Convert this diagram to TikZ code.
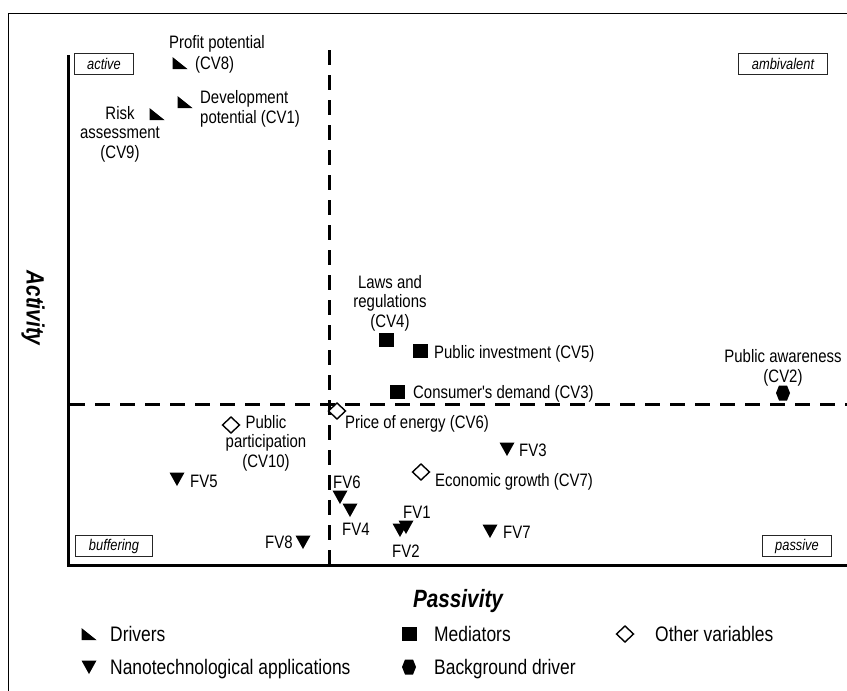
\documentclass[tikz,border=0pt]{standalone}
\usepackage{fontspec}
\setmainfont{Liberation Sans}
\newfontfamily\narrowsans[FakeStretch=0.83]{Liberation Sans}
\tikzset{
  lbl/.style = {font=\narrowsans\fontsize{18}{19.5}\selectfont, inner sep=0pt, align=center},
  keytext/.style = {font=\narrowsans\fontsize{21}{24}\selectfont, inner sep=0pt, anchor=base west},
  axistitle/.style = {font=\narrowsans\bfseries\itshape\fontsize{25}{28}\selectfont},
  quadrant/.style = {draw=black!85, line width=1pt, inner xsep=13pt, inner ysep=0pt,
                     minimum height=21pt, font=\narrowsans\itshape\fontsize{15.5}{17}\selectfont},
  axisline/.style = {line width=3pt},
  split/.style = {line width=3pt, dash pattern=on 15pt off 10pt},
  driver/.pic = {\fill (-7.5,-6) -- (-7.5,6) -- (7.5,6) -- cycle;},
  nano/.pic = {\fill (-7.5,-6.5) -- (7.5,-6.5) -- (0,7) -- cycle;},
  mediator/.pic = {\fill (-7.5,-7) rectangle (7.5,7);},
  other/.pic = {\filldraw[fill=white, line width=1.4pt] (0,-8) -- (8.5,0) -- (0,8) -- (-8.5,0) -- cycle;},
  bgdriver/.pic = {\fill (-4,-7.5) -- (4,-7.5) -- (7,0) -- (4,7.5) -- (-4,7.5) -- (-7,0) -- cycle;}
}

\begin{document}
\begin{tikzpicture}[x=1pt, y=-1pt]
      \useasboundingbox (0,0) rectangle (847,691);
      \draw [line width=1pt] (8,691) -- (8,13) -- (847,13);
      % axes and quadrant split
      \draw [axisline] (68,55) -- (68,565) -- (847,565);
      \draw [split] (70,404) -- (847,404);
      \draw [split] (329,50) -- (329,565);
      \node [quadrant] (active) at (104,64) {active};
      \node [quadrant] (ambivalent) at (783,64) {ambivalent};
      \node [quadrant] (buffering) at (114,546) {buffering};
      \node [quadrant] (passive) at (797,546) {passive};
      \node [axistitle, rotate=-90] (activity) at (33,308) {Activity};
      \node [axistitle] (passivity) at (458,601) {Passivity};
      % drivers
      \pic (cv8) at (180,63) {driver};
      \node [lbl, anchor=base] (cv8a) at (217,48) {Profit potential};
      \node [lbl, anchor=base west] (cv8b) at (195,69) {(CV8)};
      \pic (cv1) at (185,102) {driver};
      \node [lbl, anchor=base west, align=left] (cv1l) at (200,123) {Development\\potential (CV1)};
      \pic (cv9) at (157,114) {driver};
      \node [lbl, anchor=base] (cv9l) at (120,158) {Risk\\assessment\\(CV9)};
      % mediators
      \pic (cv4) at (386,340) {mediator};
      \node [lbl, anchor=base] (cv4l) at (390,327) {Laws and\\regulations\\(CV4)};
      \pic (cv5) at (420,351) {mediator};
      \node [lbl, anchor=base west] (cv5l) at (434,358) {Public investment (CV5)};
      \pic (cv3) at (397,392) {mediator};
      \node [lbl, anchor=base west] (cv3l) at (413,398) {Consumer's demand (CV3)};
      % background driver
      \pic (cv2) at (783,393) {bgdriver};
      \node [lbl, anchor=base] (cv2l) at (783,382) {Public awareness\\(CV2)};
      % other variables
      \pic (cv6) at (337,411) {other};
      \node [lbl, anchor=base west] (cv6l) at (345,428) {Price of energy (CV6)};
      \pic (cv10) at (231,425) {other};
      \node [lbl, anchor=base] (cv10l) at (266,467) {Public\\participation\\(CV10)};
      \pic (cv7) at (421,472) {other};
      \node [lbl, anchor=base west] (cv7l) at (435,486) {Economic growth (CV7)};
      % nanotechnological applications
      \pic (fv5) at (177,479) {nano};
      \node [lbl, anchor=base west] (fv5l) at (190,487) {FV5};
      \pic (fv8) at (303,542) {nano};
      \node [lbl, anchor=base west] (fv8l) at (265,548) {FV8};
      \pic (fv6) at (340,497) {nano};
      \node [lbl, anchor=base west] (fv6l) at (333,488) {FV6};
      \pic (fv4) at (350,510) {nano};
      \node [lbl, anchor=base west] (fv4l) at (342,535) {FV4};
      \pic (fv2) at (400,530) {nano};
      \pic (fv1) at (406,527) {nano};
      \node [lbl, anchor=base west] (fv1l) at (403,518) {FV1};
      \node [lbl, anchor=base west] (fv2l) at (392,557) {FV2};
      \pic (fv7) at (490,531) {nano};
      \node [lbl, anchor=base west] (fv7l) at (503,538) {FV7};
      \pic (fv3) at (507,449) {nano};
      \node [lbl, anchor=base west] (fv3l) at (519,456) {FV3};
      % legend
      \pic (keydriver) at (89,634) {driver};
      \node [keytext] (keydriverl) at (110,641) {Drivers};
      \pic (keymediator) at (409,634) {mediator};
      \node [keytext] (keymediatorl) at (434,641) {Mediators};
      \pic (keyother) at (625,634) {other};
      \node [keytext] (keyotherl) at (655,641) {Other variables};
      \pic (keynano) at (89,667) {nano};
      \node [keytext] (keynanol) at (110,674) {Nanotechnological applications};
      \pic (keybg) at (409,667) {bgdriver};
      \node [keytext] (keybgl) at (434,674) {Background driver};
    \end{tikzpicture}
\end{document}
